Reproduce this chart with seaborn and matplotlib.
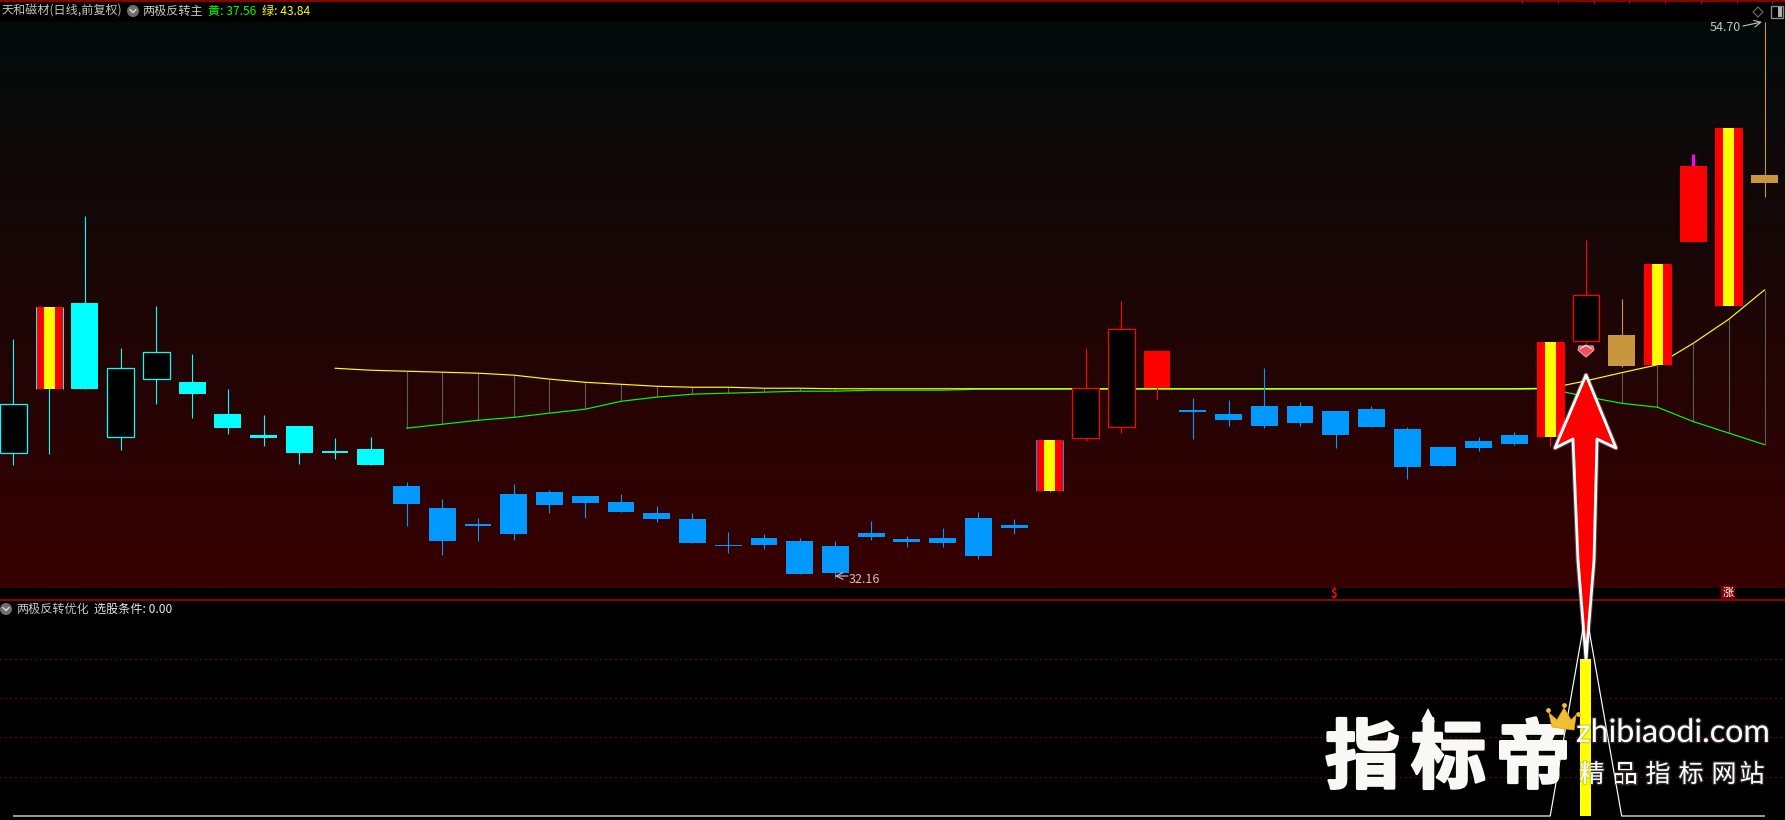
import numpy as np
import pandas as pd
import matplotlib
matplotlib.use("Agg")
import matplotlib.pyplot as plt
import matplotlib.patheffects as pe
from matplotlib.colors import LinearSegmentedColormap
from matplotlib.patches import Circle, Polygon, Rectangle
import seaborn as sns

opens = [37.24, 43.15, 43.31, 37.89, 40.24, 40.11, 38.81, 37.96, 38.32, 37.31,
         37.39, 35.89, 35.00, 34.35, 35.57, 35.65, 35.48, 35.24, 34.80, 34.55,
         33.50, 33.78, 33.66, 33.46, 33.98, 33.74, 33.78, 34.59, 34.31, 37.76,
         37.84, 38.28, 41.36, 38.97, 38.81, 39.13, 39.13, 38.93, 39.01, 38.20,
         37.47, 37.71, 37.96, 41.73, 41.77, 42.01, 44.89, 48.86, 50.40, 48.50]
highs = [41.85, 43.15, 46.83, 41.48, 43.19, 41.24, 39.82, 38.77, 38.32, 37.84,
         37.88, 36.05, 35.36, 34.59, 35.97, 35.73, 35.48, 35.57, 35.08, 34.80,
         34.03, 33.94, 33.78, 33.66, 34.47, 33.86, 34.19, 34.84, 34.55, 37.76,
         41.48, 43.39, 41.40, 39.46, 39.38, 40.67, 39.29, 38.93, 39.13, 38.28,
         37.51, 37.88, 38.08, 41.73, 45.86, 43.47, 44.89, 49.35, 50.40, 54.70]
lows = [36.74, 37.19, 39.82, 37.35, 39.21, 38.65, 38.00, 37.51, 36.78, 36.98,
        36.74, 34.27, 33.09, 33.66, 33.70, 34.80, 34.59, 34.84, 34.43, 33.58,
        33.17, 33.33, 32.32, 32.16, 33.70, 33.42, 33.42, 32.93, 33.94, 35.65,
        37.71, 38.04, 39.38, 37.80, 38.32, 38.24, 38.32, 37.43, 38.28, 36.17,
        36.70, 37.31, 37.55, 37.51, 41.69, 40.71, 40.80, 45.78, 43.19, 47.61]
closes = [39.20, 39.82, 39.82, 40.66, 41.31, 39.62, 38.24, 37.84, 37.23, 37.23,
          36.74, 35.16, 33.66, 34.27, 33.94, 35.12, 35.20, 34.84, 34.55, 33.58,
          33.46, 33.50, 32.32, 32.36, 33.82, 33.62, 33.58, 33.05, 34.19, 35.69,
          39.86, 42.25, 39.86, 38.89, 38.57, 38.32, 38.44, 37.96, 38.28, 36.66,
          36.70, 37.43, 37.59, 37.88, 43.63, 40.75, 40.80, 45.78, 43.19, 48.17]
candle_groups = ["cyan"] * 11 + ["blue"] * 19 + ["red"] * 3 + ["blue"] * 10 + ["red"] * 2 + ["gold"] + ["red"] * 3 + ["gold"]
striped_bars = [1, 29, 43, 46, 48]

yellow_start = 9
yellow_vals = [40.66, 40.58, 40.54, 40.50, 40.46, 40.38, 40.22, 40.09, 40.01, 39.93,
               39.89, 39.89, 39.85, 39.85, 39.83, 39.83, 39.83, 39.83, 39.83, 39.83,
               39.83, 39.83, 39.83, 39.83, 39.83, 39.83, 39.83, 39.83, 39.83, 39.83,
               39.83, 39.83, 39.83, 39.83, 39.85, 40.15, 40.48, 40.80, 41.67, 42.65, 43.84]
green_start = 11
green_vals = [38.23, 38.39, 38.55, 38.67, 38.84, 39.00, 39.32, 39.49, 39.61, 39.65,
              39.69, 39.73, 39.73, 39.77, 39.77, 39.77, 39.81, 39.81, 39.81, 39.81,
              39.81, 39.81, 39.81, 39.81, 39.81, 39.81, 39.81, 39.81, 39.81, 39.81,
              39.81, 39.81, 39.82, 39.51, 39.24, 39.08, 38.50, 38.03, 37.56]

signal_line = [0] * 44 + [130] + [0] * 5
signal_bar = [0] * 44 + [100] + [0] * 5
sub_levels = [25, 50, 75, 100]

colors = {"cyan": "#00ffff", "blue": "#0099ff", "red": "#ff0000", "gold": "#c8963c"}

df = pd.DataFrame({"i": range(50), "open": opens, "high": highs, "low": lows, "close": closes, "group": candle_groups})
df["yellow"] = [np.nan] * yellow_start + yellow_vals
df["green"] = [np.nan] * green_start + green_vals
df["color"] = df["group"].map(colors)
df["top"] = df[["open", "close"]].max(axis=1)
df["bottom"] = df[["open", "close"]].min(axis=1)

sns.set_theme(style="dark", rc={"axes.facecolor": "black", "figure.facecolor": "black"})
plt.rcParams["font.family"] = ["Noto Sans CJK SC", "DejaVu Sans"]

fig = plt.figure(figsize=(17.85, 8.2001), dpi=100)
ax = fig.add_axes([0, (820 - 588) / 820, 1, (588 - 22) / 820])
sub = fig.add_axes([0, 0, 1, 218 / 820])
over = fig.add_axes([0, 0, 1, 1], zorder=10)
over.patch.set_visible(False)
over.set_xlim(0, 1785)
over.set_ylim(820, 0)

xlim = (-0.375, 49.57)
ax.set_xlim(xlim)
ax.set_ylim(31.75, 54.70)
sub.set_xlim(xlim)
sub.set_ylim(-2.55, 136.3)

# pane background
cmap = LinearSegmentedColormap.from_list("pane", ["#020b0b", "#380000"])
ax.imshow(np.linspace(0, 1, 256).reshape(-1, 1), cmap=cmap, aspect="auto",
          extent=(*xlim, 31.75, 54.70), zorder=0)
ax.set_xlim(xlim)
ax.set_ylim(31.75, 54.70)

# band between the two lines
band = df.dropna(subset=["green"])
band = band[(band["yellow"] - band["green"]).abs() > 0.03]
ax.vlines(band["i"], band["green"], band["yellow"], color="#5c5c5c", lw=0.8, zorder=1)
sns.lineplot(data=df, x="i", y="green", color="#00ff00", lw=0.85, ax=ax, zorder=2)
sns.lineplot(data=df, x="i", y="yellow", color="#ffff00", lw=0.85, ax=ax, zorder=2.5)

# candles
wick = df[df["i"] != 47]
ax.vlines(wick["i"], wick["low"], wick["high"], colors=wick["color"], lw=0.8, zorder=3)
ax.vlines(47, closes[47], opens[47], color="#ff0000", lw=0.8, zorder=3)
ax.vlines(47, opens[47], highs[47], color="#ff00ff", lw=2.2, zorder=3)
w = 0.75
for row in df.itertuples():
    h = row.top - row.bottom
    if row.i in striped_bars:
        ax.bar(row.i, h, w, bottom=row.bottom, color="#ff0000", lw=0, zorder=4)
        ax.bar(row.i, h, 0.31, bottom=row.bottom, color="#ffff00", lw=0, zorder=5)
        ax.vlines([row.i - w / 2, row.i + w / 2], row.bottom, row.top, color=row.color, lw=0.7, zorder=5)
    elif row.close > row.open:
        ax.bar(row.i, h, w, bottom=row.bottom, color="black", edgecolor=row.color, lw=0.9, zorder=4)
    else:
        ax.bar(row.i, h, w, bottom=row.bottom, color=row.color, lw=0, zorder=4)

# lower pane
sub.hlines(sub_levels, *xlim, color="#c00000", lw=0.8, linestyle=(0, (1, 3.5)), zorder=1)
sub.bar(range(50), signal_bar, 0.31, color="#ffff00", lw=0, zorder=2)
sns.lineplot(x=range(50), y=signal_line, color="white", lw=0.85, ax=sub, zorder=3)

for a in (ax, sub):
    a.set_axis_off()

# frame lines
over.axis("off")
over.hlines([1.5, 600], 0, 1785, color="#a80000", lw=1.2)
over.vlines([1522, 1558, 1594, 1629, 1665, 1701, 1737, 1772], 1, 4, color="#a80000", lw=0.8)

grey = "#c4c4c4"
small = 8.7


def chevron(x, y):
    over.add_patch(Circle((x, y), 6, fc="#6e6e6e", ec="none"))
    over.plot([x - 3, x, x + 3], [y - 1.5, y + 1.5, y - 1.5], color="#e0e0e0", lw=1)


over.text(2, 11, "天和磁材(日线,前复权)", color=grey, fontsize=small, va="center")
chevron(133, 11)
over.text(142, 11, "两极反转主", color=grey, fontsize=small, va="center")
over.text(208, 11, "黄: 37.56", color="#00ff00", fontsize=small, va="center")
over.text(262, 11, "绿: 43.84", color="#ffff00", fontsize=small, va="center")

chevron(6, 609)
over.text(16, 609, "两极反转优化", color=grey, fontsize=small, va="center")
over.text(94, 609, "选股条件: 0.00", color="#e8e8e8", fontsize=small, va="center")

over.text(1710, 27.5, "54.70", color=grey, fontsize=9, va="center")
over.annotate("", xy=(1762, 22), xytext=(1743, 26),
              arrowprops=dict(arrowstyle="->", color=grey, lw=0.8, shrinkA=0, shrinkB=0))
over.annotate("", xy=(835, 576), xytext=(848, 576),
              arrowprops=dict(arrowstyle="->", color=grey, lw=0.8, shrinkA=0, shrinkB=0))
over.text(849, 579, "32.16", color=grey, fontsize=9, va="center")

# corner icons
over.add_patch(Polygon([(1758, 7), (1763, 12), (1758, 17), (1753, 12)], fc="none", ec="#707070", lw=0.8))
over.add_patch(Rectangle((1771, 6), 12, 12, fc="none", ec="#8a8a8a", lw=1))
over.add_patch(Rectangle((1778, 7), 4, 10, fc="#b0b0b0", ec="none"))

# markers under the main pane
over.text(1334, 593, "$", color="#ff0000", fontsize=8, fontweight="bold", ha="center", va="center")
over.add_patch(Rectangle((1721, 586), 14, 13, fc="#800000", ec="none"))
over.text(1728, 592.5, "涨", color="white", fontsize=8, ha="center", va="center")

# gem
over.add_patch(Polygon([(1579, 346), (1593, 346), (1594, 350), (1586, 357), (1578, 350)], fc="#f0505a", ec="#ff9aa0", lw=0.8))
over.plot([1580, 1586, 1592], [349, 345, 349], color="white", lw=0.7)

# big arrow
arrow = [(1586, 375), (1616, 448), (1597, 439), (1594, 560), (1586, 659), (1578, 560), (1573, 439), (1555, 448)]
over.add_patch(Polygon(arrow, closed=True, fc="#ff0000", ec="white", lw=2.0, joinstyle="round",
                       path_effects=[pe.withStroke(linewidth=3.5, foreground="#ffffff", alpha=0.25)], zorder=5))

# watermark
glow = [pe.withStroke(linewidth=2, foreground="#f8f8f4"), pe.Normal()]
for x, ch in zip([1362.5, 1448.5, 1533], "指标帝"):
    over.text(x, 760, ch, color="#f8f8f4", fontsize=54, fontweight="bold", ha="center", va="center",
              path_effects=glow, zorder=6)
over.add_patch(Polygon([(1428, 708), (1435, 722), (1431, 722), (1431, 732), (1425, 732), (1425, 722), (1421, 722)],
                       fc="#f8f8f4", ec="none", zorder=6))
over.add_patch(Polygon([(1549, 713), (1557, 720), (1564, 708), (1571, 720), (1576, 715), (1574, 730), (1552, 727)],
                       fc="#f0c030", ec="#e8a820", lw=0.6, zorder=7))
over.scatter([1548, 1564, 1578], [710, 705, 714], s=12, color="#f0c030", lw=0, zorder=7)

over.text(1576, 733, "zhibiaodi.com", color="white", fontsize=23.2, family="Lato", ha="left", va="center", zorder=6,
          path_effects=[pe.withStroke(linewidth=2, foreground="#808080", alpha=0.3)])
for x, ch in zip([1592, 1625, 1658, 1691, 1724, 1752], "精品指标网站"):
    over.text(x, 775, ch, color="white", fontsize=18, ha="center", va="center", zorder=6,
              path_effects=[pe.withStroke(linewidth=2, foreground="#808080", alpha=0.3)])

fig.savefig("out.png", dpi=100, facecolor="black")
